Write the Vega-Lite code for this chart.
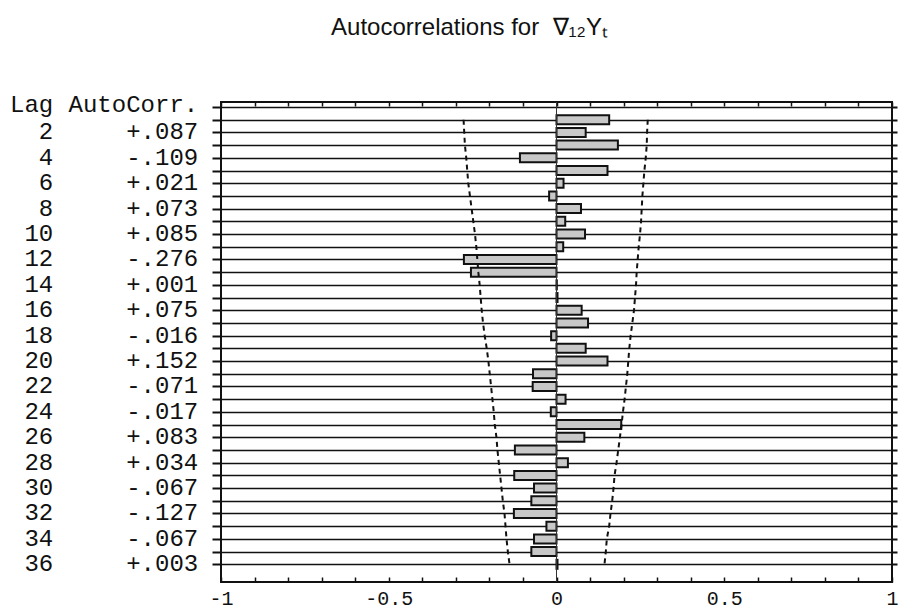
{
  "$schema": "https://vega.github.io/schema/vega-lite/v6.json",
  "width": 671,
  "height": 480,
  "autosize": {"type": "none"},
  "padding": {"left": 221, "top": 102, "right": 9, "bottom": 34},
  "background": "white",
  "title": {
    "text": "Autocorrelations for\u00a0\u00a0∇₁₂Yₜ",
    "font": "Liberation Sans",
    "fontSize": 24,
    "fontWeight": "normal",
    "color": "#111",
    "anchor": "middle",
    "frame": "group",
    "baseline": "alphabetic",
    "dx": -87,
    "offset": 34
  },
  "config": {"view": {"stroke": "#111", "strokeWidth": 2}},
  "data": {
    "values": [
      {"lag": 1, "r": 0.157, "lo": -0.277, "hi": 0.272},
      {"lag": 2, "r": 0.087, "lo": -0.275, "hi": 0.270, "ac": "+.087"},
      {"lag": 3, "r": 0.183, "lo": -0.273, "hi": 0.269},
      {"lag": 4, "r": -0.109, "lo": -0.269, "hi": 0.266, "ac": "-.109"},
      {"lag": 5, "r": 0.152, "lo": -0.266, "hi": 0.262},
      {"lag": 6, "r": 0.021, "lo": -0.263, "hi": 0.259, "ac": "+.021"},
      {"lag": 7, "r": -0.022, "lo": -0.258, "hi": 0.256},
      {"lag": 8, "r": 0.073, "lo": -0.253, "hi": 0.254, "ac": "+.073"},
      {"lag": 9, "r": 0.026, "lo": -0.248, "hi": 0.252},
      {"lag": 10, "r": 0.085, "lo": -0.243, "hi": 0.249, "ac": "+.085"},
      {"lag": 11, "r": 0.020, "lo": -0.239, "hi": 0.245},
      {"lag": 12, "r": -0.276, "lo": -0.236, "hi": 0.242, "ac": "-.276"},
      {"lag": 13, "r": -0.255, "lo": -0.233, "hi": 0.239},
      {"lag": 14, "r": 0.001, "lo": -0.229, "hi": 0.237, "ac": "+.001"},
      {"lag": 15, "r": 0.003, "lo": -0.226, "hi": 0.234},
      {"lag": 16, "r": 0.075, "lo": -0.223, "hi": 0.231, "ac": "+.075"},
      {"lag": 17, "r": 0.094, "lo": -0.219, "hi": 0.226},
      {"lag": 18, "r": -0.016, "lo": -0.214, "hi": 0.221, "ac": "-.016"},
      {"lag": 19, "r": 0.087, "lo": -0.208, "hi": 0.217},
      {"lag": 20, "r": 0.152, "lo": -0.203, "hi": 0.214, "ac": "+.152"},
      {"lag": 21, "r": -0.070, "lo": -0.199, "hi": 0.211},
      {"lag": 22, "r": -0.071, "lo": -0.195, "hi": 0.207, "ac": "-.071"},
      {"lag": 23, "r": 0.027, "lo": -0.191, "hi": 0.203},
      {"lag": 24, "r": -0.017, "lo": -0.187, "hi": 0.198, "ac": "-.017"},
      {"lag": 25, "r": 0.193, "lo": -0.184, "hi": 0.194},
      {"lag": 26, "r": 0.083, "lo": -0.179, "hi": 0.189, "ac": "+.083"},
      {"lag": 27, "r": -0.124, "lo": -0.176, "hi": 0.184},
      {"lag": 28, "r": 0.034, "lo": -0.172, "hi": 0.179, "ac": "+.034"},
      {"lag": 29, "r": -0.126, "lo": -0.168, "hi": 0.173},
      {"lag": 30, "r": -0.067, "lo": -0.164, "hi": 0.170, "ac": "-.067"},
      {"lag": 31, "r": -0.075, "lo": -0.160, "hi": 0.166},
      {"lag": 32, "r": -0.127, "lo": -0.155, "hi": 0.161, "ac": "-.127"},
      {"lag": 33, "r": -0.030, "lo": -0.152, "hi": 0.157},
      {"lag": 34, "r": -0.067, "lo": -0.149, "hi": 0.150, "ac": "-.067"},
      {"lag": 35, "r": -0.075, "lo": -0.145, "hi": 0.147},
      {"lag": 36, "r": 0.003, "lo": -0.140, "hi": 0.143, "ac": "+.003"}
    ]
  },
  "resolve": {"axis": {"x": "independent", "y": "independent"}},
  "layer": [
    {
      "mark": {"type": "bar", "orient": "horizontal", "height": 9, "fill": "#c8c8c8", "stroke": "#111", "strokeWidth": 2},
      "encoding": {
        "x": {
          "field": "r", "type": "quantitative",
          "scale": {"domain": [-1, 1], "nice": false, "zero": true},
          "axis": {
            "orient": "bottom", "title": null, "domain": false, "grid": false,
            "values": [-1, -0.9, -0.8, -0.7, -0.6, -0.5, -0.4, -0.3, -0.2, -0.1, 0, 0.1, 0.2, 0.3, 0.4, 0.5, 0.6, 0.7, 0.8, 0.9, 1],
            "labelExpr": "abs(datum.value*2 - round(datum.value*2)) < 0.01 ? replace(format(datum.value, ''), '−', '-') : ''",
            "labelFont": "Liberation Mono", "labelFontSize": 20, "labelColor": "#111",
            "labelFlush": false, "labelOverlap": false, "labelPadding": 11,
            "tickSize": -5, "tickColor": "#111", "tickWidth": 1.5
          }
        },
        "y": {
          "field": "lag", "type": "quantitative",
          "scale": {"domain": [0, 37], "nice": false, "zero": false, "reverse": true},
          "axis": {
            "orient": "left", "title": null, "domain": false, "labels": false,
            "values": [0, 1, 2, 3, 4, 5, 6, 7, 8, 9, 10, 11, 12, 13, 14, 15, 16, 17, 18, 19, 20, 21, 22, 23, 24, 25, 26, 27, 28, 29, 30, 31, 32, 33, 34, 35, 36],
            "grid": true, "gridColor": "#111", "gridWidth": 1.5, "gridOpacity": 1,
            "tickSize": 9, "tickColor": "#111", "tickWidth": 2
          }
        }
      }
    },
    {
      "mark": {"type": "rule", "color": "#333", "strokeWidth": 1},
      "encoding": {
        "x": {"datum": 0, "type": "quantitative", "axis": null}
      }
    },
    {
      "mark": {"type": "line", "color": "#111", "strokeWidth": 2, "strokeDash": [5, 4]},
      "encoding": {
        "x": {
          "field": "lo", "type": "quantitative",
          "axis": {
            "orient": "top", "title": null, "domain": false, "labels": false, "grid": false,
            "values": [-1, -0.9, -0.8, -0.7, -0.6, -0.5, -0.4, -0.3, -0.2, -0.1, 0, 0.1, 0.2, 0.3, 0.4, 0.5, 0.6, 0.7, 0.8, 0.9, 1],
            "tickSize": -4, "tickColor": "#111", "tickWidth": 1.5
          }
        },
        "y": {
          "field": "lag", "type": "quantitative",
          "axis": {
            "orient": "right", "title": null, "domain": false, "labels": false, "grid": false,
            "values": [0, 1, 2, 3, 4, 5, 6, 7, 8, 9, 10, 11, 12, 13, 14, 15, 16, 17, 18, 19, 20, 21, 22, 23, 24, 25, 26, 27, 28, 29, 30, 31, 32, 33, 34, 35, 36],
            "tickSize": 5, "tickColor": "#111", "tickWidth": 2
          }
        },
        "order": {"field": "lag", "type": "quantitative"}
      }
    },
    {
      "mark": {"type": "line", "color": "#111", "strokeWidth": 2, "strokeDash": [5, 4]},
      "encoding": {
        "x": {"field": "hi", "type": "quantitative", "axis": null},
        "y": {"field": "lag", "type": "quantitative", "axis": null},
        "order": {"field": "lag", "type": "quantitative"}
      }
    },
    {
      "transform": [{"filter": "isValid(datum.ac)"}],
      "mark": {"type": "text", "font": "Liberation Mono", "fontSize": 24, "color": "#111", "align": "right", "baseline": "middle"},
      "encoding": {
        "x": {"datum": -1.5, "type": "quantitative", "axis": null},
        "y": {"field": "lag", "type": "quantitative", "axis": null},
        "text": {"field": "lag", "type": "nominal"}
      }
    },
    {
      "transform": [{"filter": "isValid(datum.ac)"}],
      "mark": {"type": "text", "font": "Liberation Mono", "fontSize": 24, "color": "#111", "align": "right", "baseline": "middle"},
      "encoding": {
        "x": {"datum": -1.068, "type": "quantitative", "axis": null},
        "y": {"field": "lag", "type": "quantitative", "axis": null},
        "text": {"field": "ac", "type": "nominal"}
      }
    },
    {
      "data": {"values": [{"h": "Lag"}]},
      "mark": {"type": "text", "font": "Liberation Mono", "fontSize": 24, "color": "#111", "align": "right", "baseline": "middle"},
      "encoding": {
        "x": {"datum": -1.5, "type": "quantitative", "axis": null},
        "y": {"datum": -0.15, "type": "quantitative", "axis": null},
        "text": {"field": "h", "type": "nominal"}
      }
    },
    {
      "data": {"values": [{"h": "AutoCorr."}]},
      "mark": {"type": "text", "font": "Liberation Mono", "fontSize": 24, "color": "#111", "align": "right", "baseline": "middle"},
      "encoding": {
        "x": {"datum": -1.068, "type": "quantitative", "axis": null},
        "y": {"datum": -0.15, "type": "quantitative", "axis": null},
        "text": {"field": "h", "type": "nominal"}
      }
    }
  ]
}
